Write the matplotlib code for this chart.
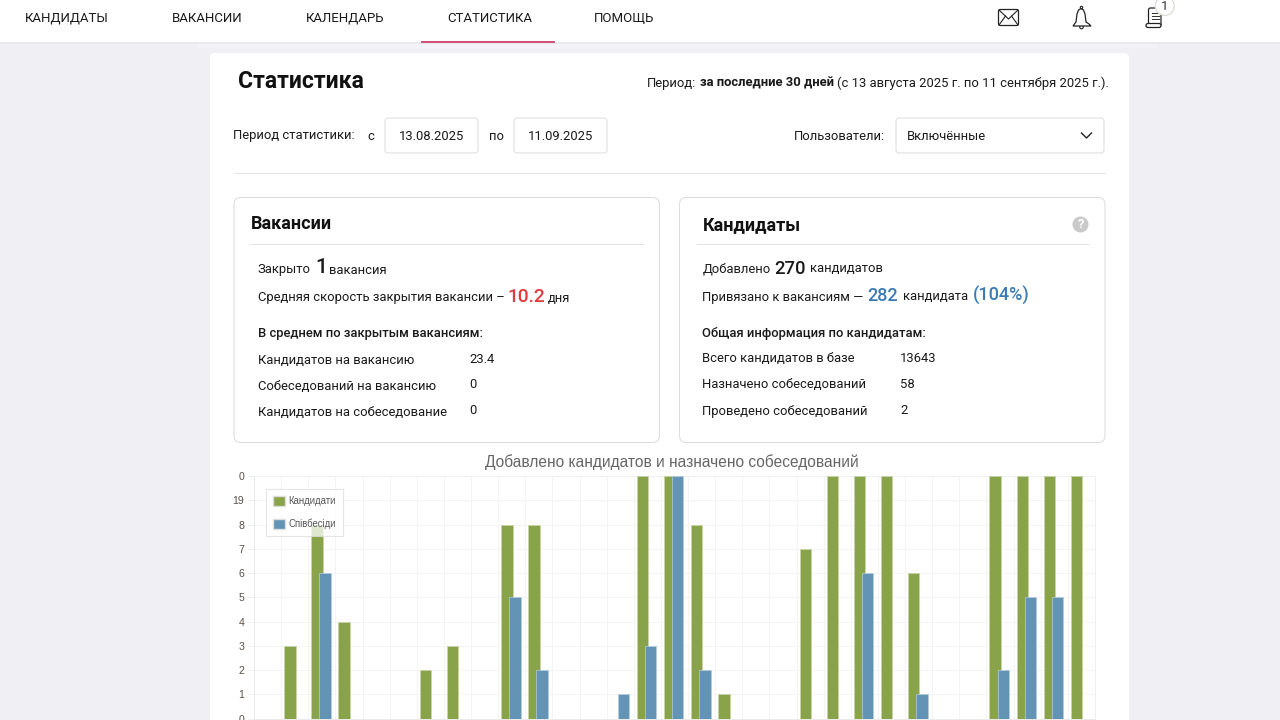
# -*- coding: utf-8 -*-
import numpy as np
from matplotlib import pyplot as plt
from matplotlib.patches import FancyBboxPatch, Rectangle, Circle, Polygon

W, H = 1280, 720

# chart values, top ones are cut by the axis
candidates = [0, 3, 8, 4, 0, 0, 2, 3, 0, 8, 8, 0, 0, 0, 10, 10, 8, 1, 0, 0, 7, 10, 10, 10, 6, 0, 0, 10, 10, 10, 10]
interviews = [0, 0, 6, 0, 0, 0, 0, 0, 0, 5, 2, 0, 0, 1, 3, 10, 2, 0, 0, 0, 0, 0, 6, 0, 1, 0, 0, 2, 5, 5, 0]
y_ticks = [0, 1, 2, 3, 4, 5, 6, 7, 8, 9, 10]
y_labels = ['0', '1', '2', '3', '4', '5', '6', '7', '8', '19', '0']
series_names = ['Кандидати', 'Співбесіди']
chart_title = 'Добавлено кандидатов и назначено собеседований'

nav_items = ['КАНДИДАТЫ', 'ВАКАНСИИ', 'КАЛЕНДАРЬ', 'СТАТИСТИКА', 'ПОМОЩЬ']
nav_x = [25, 172, 306, 447, 594]

GREEN = '#88a349'
BLUE = '#6393b5'
DARK = '#1a1a1a'
FONT = 'Roboto'

plt.rcParams['font.family'] = [FONT, 'DejaVu Sans']

fig = plt.figure(figsize=(W / 100, H / 100), dpi=100, facecolor='#efeff4')
ui = fig.add_axes([0, 0, 1, 1])
ui.set_xlim(0, W)
ui.set_ylim(H, 0)
ui.axis('off')


def px(size):
    return size * 0.72


def label(x, y, s, size=13, color=DARK, weight='normal', ha='left', family=None, zorder=5):
    dy = 1.5 if size < 15 else 0.7
    return ui.text(x, y + dy, s, fontsize=px(size), color=color, fontweight=weight, ha=ha, va='center',
                   family=family if family else [FONT, 'DejaVu Sans'], zorder=zorder)


def box(x0, y0, x1, y1, r=5, fc='white', ec='#dcdcdc', lw=0.72, zorder=2):
    p = FancyBboxPatch((x0 + r, y0 + r), x1 - x0 - 2 * r, y1 - y0 - 2 * r,
                       boxstyle='round,pad=%d,rounding_size=%d' % (r, r),
                       fc=fc, ec=ec, lw=lw, zorder=zorder)
    ui.add_patch(p)


def hline(x0, x1, y, color='#e2e2e2', lw=0.72):
    ui.plot([x0, x1], [y, y], color=color, lw=lw, solid_capstyle='butt', zorder=3)


# header
ui.add_patch(Rectangle((0, 0), W, 42, fc='white', ec='none', zorder=1))
ui.add_patch(Rectangle((0, 42), W, 2, fc='#e9e9ed', ec='none', zorder=1))
ui.add_patch(Rectangle((197, 44), 960, 4, fc='#f3f3f7', ec='none', zorder=1))
for x, s in zip(nav_x, nav_items):
    label(x, 16.5, s, size=13.2)
ui.add_patch(Rectangle((421, 41), 134, 2, fc='#d2527a', ec='none', zorder=3))

# envelope
ui.add_patch(FancyBboxPatch((998.5, 9.5), 20, 16, boxstyle='round,pad=0,rounding_size=2',
                            fc='white', ec='#222222', lw=0.9, zorder=3))
ui.plot([999, 1008.5, 1018], [10, 19, 10], color='#222222', lw=0.8, zorder=4)
ui.plot([999, 1005.5], [25, 16], color='#222222', lw=0.8, zorder=4)
ui.plot([1018, 1011.5], [25, 16], color='#222222', lw=0.8, zorder=4)

# bell
bell_x = [1073, 1076, 1077, 1078.5, 1081, 1083.5, 1085, 1086, 1089, 1091, 1073]
bell_y = [26, 22, 14, 10, 8.5, 10, 14, 22, 24, 26, 26]
ui.add_patch(Polygon(list(zip(bell_x, bell_y)), closed=True, fc='white', ec='#222222', lw=0.9, zorder=3))
ui.add_patch(Circle((1081.5, 7.5), 1.2, fc='white', ec='#222222', lw=0.8, zorder=3))
ui.add_patch(Circle((1081.5, 27), 1.8, fc='white', ec='#222222', lw=0.8, zorder=2.9))

# scroll
ui.add_patch(FancyBboxPatch((1148.5, 8), 12.5, 18, boxstyle='round,pad=0,rounding_size=2',
                            fc='white', ec='#222222', lw=0.9, zorder=3))
ui.add_patch(FancyBboxPatch((1146, 23.5), 15, 4, boxstyle='round,pad=0,rounding_size=2',
                            fc='white', ec='#222222', lw=0.9, zorder=3))
for yy in (13, 16, 19):
    ui.plot([1151.5, 1159], [yy, yy], color='#333333', lw=0.7, zorder=4)
ui.add_patch(Circle((1164.7, 6), 9.5, fc='white', ec='#d8d8cc', lw=0.8, zorder=4))
label(1164.7, 5, '1', size=13, ha='center', color='#333333')

# main card
box(210, 53, 1129, 760, r=5, ec='none')
label(238, 81, 'Статистика', size=23, weight='bold', color='#111111')
label(647, 81.5, 'Период:', size=13)
label(700, 81.5, 'за последние 30 дней', size=13, weight='bold')
label(837, 81.5, '(с 13 августа 2025 г. по 11 сентября 2025 г.).', size=13)

# filters
label(233, 134.5, 'Период статистики:', size=13)
label(367, 134.5, 'с', size=13)
box(385, 118, 478, 153, r=3, ec='#dddddd')
label(431.5, 134.5, '13.08.2025', size=13, ha='center')
label(489, 134.5, 'по', size=13)
box(514, 118, 607, 153, r=3, ec='#dddddd')
label(560.5, 134.5, '11.09.2025', size=13, ha='center')
label(794, 134.5, 'Пользователи:', size=13)
box(896, 118, 1104, 153, r=3, ec='#dddddd')
label(907, 134.5, 'Включённые', size=13)
ui.plot([1081.5, 1086.5, 1091.5], [133, 138, 133], color='#222222', lw=1.0, zorder=4)
hline(234, 1105, 172.5)

# left panel
box(234, 197.5, 659.5, 442.5, r=7)
label(251, 223, 'Вакансии', size=18, weight='bold', color='#111111')
hline(250, 644, 243.5)
label(257.5, 268.5, 'Закрыто', size=13)
label(315.5, 267, '1', size=21, weight='medium')
label(329, 268.5, 'вакансия', size=13)
label(258, 296.5, 'Средняя скорость закрытия вакансии –', size=13)
label(507.5, 296.5, '10.2', size=19, color='#e0383c', weight='medium')
label(548, 297.5, 'дня', size=13)
label(258, 332.5, 'В среднем по закрытым вакансиям:', size=13, weight='medium')
left_rows = ['Кандидатов на вакансию', 'Собеседований на вакансию', 'Кандидатов на собеседование']
left_vals = ['23.4', '0', '0']
for y, s, v in zip([359, 384.5, 410.5], left_rows, left_vals):
    label(258, y, s, size=13)
    label(469, y - 1, v, size=13)

# right panel
box(679.5, 197.5, 1105, 442.5, r=7)
label(702.5, 224.5, 'Кандидаты', size=18, weight='bold', color='#111111')
ui.add_patch(Circle((1080.5, 224.5), 8, fc='#c9c9c9', ec='none', zorder=3))
label(1080.5, 223.5, '?', size=13, weight='bold', color='white', ha='center')
hline(696, 1089, 243.5)
label(702.5, 267.5, 'Добавлено', size=13)
label(774.5, 268, '270', size=18.5, weight='medium')
label(810, 267.5, 'кандидатов', size=13)
label(702.5, 295.5, 'Привязано к вакансиям —', size=13)
label(867, 295.5, '282', size=18, color='#3a7ab5', weight='medium')
label(903, 295.5, 'кандидата', size=13)
label(973, 295, '(104%)', size=18, color='#3a7ab5', weight='medium')
label(702.5, 331.5, 'Общая информация по кандидатам:', size=13, weight='medium')
right_rows = ['Всего кандидатов в базе', 'Назначено собеседований', 'Проведено собеседований']
right_vals = ['13643', '58', '2']
for y, s, v in zip([357.5, 383.5, 409.5], right_rows, right_vals):
    label(702.5, y, s, size=13)
    label(900, y - 1, v, size=13)

# chart
ui.text(672, 461.7, chart_title, fontsize=px(15.55), color='#666666', ha='center', va='center',
        family='Liberation Sans', zorder=5)

x0, x1, y_top, y_bot = 254, 1095, 476, 718.6
ax = fig.add_axes([x0 / W, 1 - y_bot / H, (x1 - x0) / W, (y_bot - y_top) / H], facecolor='white')
ax.set_zorder(3)
n = len(candidates)
idx = np.arange(n)
bar_w = 0.42
ax.bar(idx + 0.32, candidates, width=bar_w, color=GREEN, edgecolor='#c9d5a8', linewidth=0.5, zorder=3, label=series_names[0])
ax.bar(idx + 0.62, interviews, width=bar_w, color=BLUE, edgecolor='#b5cde0', linewidth=0.5, zorder=4, label=series_names[1])
ax.set_xlim(0, n)
ax.set_ylim(0, 10)
ax.set_xticks(idx)
ax.set_xticklabels([])
ax.set_yticks(y_ticks)
ax.set_yticklabels(y_labels, fontsize=px(10.5), color='#5a5048', family='Liberation Sans')
ax.tick_params(axis='y', length=4, width=0.7, color='#eeeeee', pad=3)
ax.tick_params(axis='x', length=0)
ax.grid(True, color='#f4f4f4', lw=0.72, zorder=0)
ax.set_axisbelow(True)
for side in ('top', 'right'):
    ax.spines[side].set_color('#f0f0f0')
    ax.spines[side].set_linewidth(0.72)
for side in ('left', 'bottom'):
    ax.spines[side].set_color('#eaeaea')
    ax.spines[side].set_linewidth(0.72)

leg = ax.legend(loc='upper left',
                bbox_to_anchor=((266 - x0) / (x1 - x0), (y_bot - 489) / (y_bot - y_top)),
                prop={'family': 'Liberation Sans', 'size': px(9.6)}, labelcolor='#555555',
                frameon=True, fancybox=False, framealpha=0.75, edgecolor='#dddddd',
                handlelength=1.2, handleheight=1.2, handletextpad=0.4, labelspacing=1.25,
                borderpad=0.75, borderaxespad=0)
leg.get_frame().set_linewidth(0.8)
leg.set_zorder(10)
for h in leg.legend_handles:
    h.set_edgecolor('#dddddd')
    h.set_linewidth(1.0)

fig.savefig('out.png', dpi=100, facecolor=fig.get_facecolor())
